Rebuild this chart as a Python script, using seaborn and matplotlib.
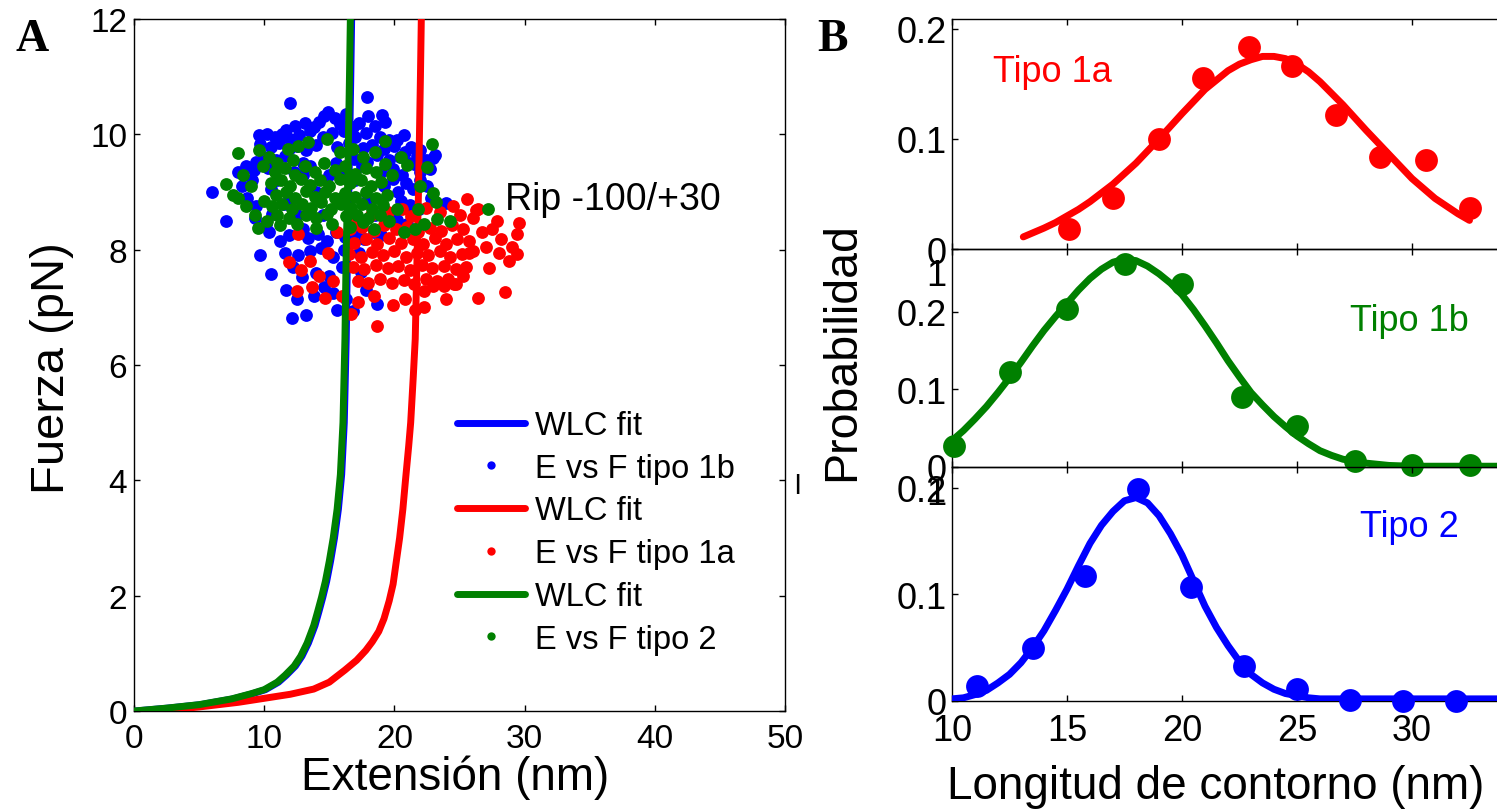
import matplotlib
matplotlib.use('Agg')
import matplotlib.pyplot as plt
from matplotlib.lines import Line2D
import seaborn as sns
import numpy as np

# ---------------- data: panel A (extension nm, force pN) ----------------
blue_pts = [
    (12.0, 10.55), (17.9, 10.64),
    (14.6, 10.32), (14.9, 10.38), (15.4, 10.28), (18.0, 10.31), (19.05, 10.33), (16.3, 10.36), (19.3, 10.22),
    (12.4, 10.15), (13.1, 10.2), (13.8, 10.12), (14.2, 10.22), (15.8, 10.18), (16.8, 10.12), (17.3, 10.2),
    (18.5, 10.15), (13.5, 10.05), (16.1, 10.05), (17.8, 10.02),
    (9.6, 9.99), (10.2, 10.0), (10.8, 9.95), (11.4, 10.0), (12.0, 9.92), (12.7, 9.98), (14.5, 9.95),
    (15.2, 10.02), (17.0, 9.95), (18.9, 9.96), (19.6, 9.9), (20.2, 9.9), (20.7, 9.98), (11.7, 10.08),
    (9.7, 9.83), (10.5, 9.78), (11.1, 9.85), (11.9, 9.75), (12.5, 9.8), (13.2, 9.72), (14.0, 9.82), (15.6, 9.78),
    (16.5, 9.85), (17.6, 9.76), (18.3, 9.82), (19.2, 9.74), (20.0, 9.8), (20.8, 9.7), (21.3, 9.78), (22.0, 9.72),
    (10.0, 9.6), (10.9, 9.55), (11.6, 9.62), (13.0, 9.5), (16.9, 9.58), (17.9, 9.52), (18.7, 9.64), (19.6, 9.55),
    (20.4, 9.6), (21.1, 9.5), (21.7, 9.62), (22.4, 9.56), (23.0, 9.59), (23.1, 9.65), (9.4, 9.52),
    (9.2, 9.38), (10.3, 9.42), (19.0, 9.35), (19.9, 9.4), (20.6, 9.3), (21.5, 9.48), (22.0, 9.34), (22.7, 9.4),
    (8.0, 9.35), (8.6, 9.45),
    (6.0, 9.0), (8.3, 9.1), (9.1, 9.2), (19.9, 9.22), (20.9, 9.15), (22.0, 9.2), (21.4, 9.05), (22.5, 9.1), (20.3, 9.0),
    (8.7, 8.9), (9.4, 8.75), (20.5, 8.85), (21.2, 8.78), (22.8, 8.9), (24.0, 8.81), (21.9, 8.7),
    (7.05, 8.5), (9.3, 8.55), (10.1, 8.45), (19.5, 8.6), (20.2, 8.52), (21.0, 8.45), (10.6, 8.62),
    (10.4, 8.3), (11.2, 8.15), (11.9, 8.25), (12.7, 8.3), (13.4, 8.2), (14.1, 8.28), (14.8, 8.15), (15.5, 8.3),
    (16.2, 8.22), (17.0, 8.3), (17.7, 8.18), (18.4, 8.3), (19.0, 8.25), (13.0, 8.35), (16.6, 8.35),
    (9.7, 7.9), (11.6, 7.95), (12.6, 7.9), (14.4, 8.03), (15.3, 7.88), (16.1, 8.0), (13.5, 7.98), (17.3, 7.95),
    (10.5, 7.58), (12.9, 7.52), (12.2, 7.7), (14.0, 7.6), (15.0, 7.55), (16.0, 7.7), (17.4, 7.62),
    (11.7, 7.3), (12.5, 7.14), (13.8, 7.2), (14.6, 7.35), (15.3, 7.25), (16.3, 7.15), (17.8, 7.3), (18.7, 7.06),
    (12.1, 6.81), (13.2, 6.86), (15.6, 6.95), (16.8, 6.94),
    (11.0, 9.2), (12.0, 8.9), (13.0, 9.3), (14.0, 9.0), (15.0, 9.3), (16.0, 8.9), (17.0, 9.2), (18.0, 8.9),
    (12.5, 8.6), (14.5, 8.6), (16.5, 8.55), (18.5, 8.6), (11.5, 8.8), (13.5, 9.45), (15.5, 9.5), (17.5, 9.45),
    (10.5, 9.05), (19.2, 9.1), (12.3, 9.35), (16.2, 9.3),
]

red_pts = [
    (12.6, 8.27), (11.9, 7.79), (12.8, 7.64), (12.5, 7.29), (14.7, 7.17), (13.7, 7.35), (16.7, 6.88), (18.7, 6.68),
    (22.3, 7.0), (19.9, 7.04), (18.4, 7.2), (25.6, 8.88), (26.4, 8.7), (26.4, 7.17), (23.0, 7.37), (24.6, 7.4),
    (25.3, 7.55), (15.6, 8.3), (14.9, 7.95), (22.4, 8.73), (26.3, 8.69), (27.9, 8.5), (29.6, 8.47), (29.4, 8.27),
    (29.4, 7.92), (28.8, 7.81), (27.3, 7.68), (28.5, 7.26), (26.7, 8.3), (28.2, 8.18), (25.7, 7.95), (23.8, 7.37),
    (24.7, 7.4), (22.3, 7.29), (13.5, 7.8), (14.2, 7.55), (15.3, 7.45), (16.0, 7.2), (17.2, 7.1), (20.8, 7.15),
    (21.6, 6.95), (24.0, 7.15), (17.0, 8.5), (18.2, 8.6), (19.5, 8.65), (20.6, 8.7), (21.3, 8.58), (23.5, 8.65),
    (24.5, 8.75), (27.0, 8.05), (28.0, 7.95), (29.0, 8.05), (27.5, 8.35), (26.0, 8.55), (25.0, 8.6),
    (16.6, 8.35), (17.5, 8.4), (18.4, 8.32), (19.2, 8.42), (20.1, 8.35), (21.0, 8.4), (21.8, 8.3), (22.7, 8.38),
    (23.6, 8.32), (24.4, 8.42), (25.3, 8.35),
    (16.9, 8.12), (17.8, 8.18), (18.7, 8.1), (19.6, 8.2), (20.5, 8.12), (21.4, 8.18), (22.2, 8.1), (23.1, 8.2),
    (24.0, 8.1), (24.8, 8.18), (25.7, 8.15),
    (16.5, 7.92), (17.4, 7.88), (18.3, 7.96), (19.1, 7.9), (20.0, 7.98), (20.9, 7.88), (21.7, 7.95), (22.6, 7.9),
    (23.5, 7.98), (24.3, 7.88), (25.2, 7.92), (26.0, 7.98),
    (16.8, 7.7), (17.7, 7.66), (18.6, 7.74), (19.5, 7.68), (20.3, 7.72), (21.2, 7.65), (22.1, 7.74), (22.9, 7.68),
    (23.8, 7.72), (24.7, 7.66), (25.5, 7.7),
    (17.2, 7.45), (18.0, 7.42), (18.9, 7.5), (19.8, 7.42), (20.7, 7.48), (21.5, 7.4), (22.4, 7.5), (23.3, 7.45),
    (24.1, 7.5),
]

green_pts = [
    (7.1, 9.14), (7.6, 8.95), (8.0, 8.9), (8.0, 9.68), (8.6, 8.75), (9.5, 8.37), (9.6, 9.72), (8.4, 9.3),
    (9.0, 9.1), (9.3, 8.6), (9.9, 9.45), (10.2, 8.5), (10.4, 9.6), (10.0, 8.85),
    (19.3, 9.89), (14.8, 9.92), (13.4, 9.86), (22.9, 9.83), (21.0, 9.47), (22.5, 9.44), (23.2, 8.82), (24.3, 8.5),
    (23.3, 8.53), (21.6, 8.36), (20.7, 8.3), (18.4, 8.36), (27.2, 8.71), (23.0, 8.99), (22.0, 9.1), (20.5, 9.6),
    (21.8, 8.7), (19.8, 9.3), (20.2, 8.7), (11.8, 9.75), (12.6, 9.8), (15.8, 9.7), (16.8, 9.75), (17.6, 9.6),
    (18.5, 9.7), (11.0, 9.5), (12.2, 9.55), (22.3, 8.45), (19.6, 8.5), (11.2, 8.42), (12.5, 8.45), (14.0, 8.38),
    (15.2, 8.45), (16.6, 8.4), (17.6, 8.48),
    (10.8, 9.35), (11.6, 9.42), (12.4, 9.3), (13.1, 9.45), (13.9, 9.35), (14.6, 9.5), (15.4, 9.38), (16.2, 9.45),
    (17.0, 9.32), (17.8, 9.42), (18.6, 9.35), (19.3, 9.48),
    (10.5, 9.15), (11.3, 9.2), (12.0, 9.1), (12.8, 9.22), (13.5, 9.12), (14.3, 9.2), (15.0, 9.1), (15.8, 9.22),
    (16.6, 9.15), (17.4, 9.2), (18.2, 9.1), (19.0, 9.18),
    (10.9, 8.95), (11.7, 9.0), (12.4, 8.9), (13.2, 9.02), (13.9, 8.92), (14.7, 9.0), (15.4, 8.9), (16.2, 8.98),
    (17.0, 8.92), (17.8, 9.0), (18.6, 8.9), (19.4, 8.95),
    (10.6, 8.75), (11.4, 8.8), (12.1, 8.7), (12.9, 8.8), (13.6, 8.72), (14.4, 8.82), (15.1, 8.7), (15.9, 8.8),
    (16.7, 8.72), (17.5, 8.8), (18.3, 8.7), (19.1, 8.78),
    (11.0, 8.6), (11.9, 8.55), (13.2, 8.6), (14.0, 8.55), (14.8, 8.62), (16.3, 8.58), (17.1, 8.6), (18.0, 8.55),
    (18.9, 8.6),
]

# WLC fits
fit_force = [0.0, 0.05, 0.11, 0.21, 0.30, 0.37, 0.50, 0.62, 0.78, 0.95, 1.18, 1.48, 1.72, 1.97, 2.25, 2.6,
             3.0, 3.5, 4.1, 5.0, 6.45, 8.0, 9.0, 11.0, 12.5]
green_fit_ext = [0.0, 2.5, 5.0, 7.5, 9.0, 10.0, 11.0, 11.6, 12.3, 12.8, 13.3, 13.8, 14.1, 14.4, 14.7, 15.0,
                 15.3, 15.6, 15.85, 16.05, 16.2, 16.3, 16.4, 16.55, 16.65]
blue_fit_ext = [0.1, 2.6, 5.1, 7.6, 9.1, 10.1, 11.1, 11.7, 12.4, 12.9, 13.4, 13.9, 14.2, 14.5, 14.8, 15.1,
                15.4, 15.7, 15.95, 16.15, 16.3, 16.4, 16.5, 16.65, 16.75]
red_fit_force = [0.0, 0.07, 0.15, 0.22, 0.29, 0.38, 0.50, 0.71, 0.88, 1.05, 1.20, 1.38, 1.60, 1.91, 2.2, 2.6,
                 3.0, 3.5, 4.0, 4.6, 5.0, 5.8, 6.45, 8.0, 9.0, 11.0, 12.5]
red_fit_ext = [1.8, 5.0, 8.0, 10.0, 12.0, 13.8, 15.0, 16.2, 17.1, 17.8, 18.3, 18.8, 19.2, 19.6, 19.9, 20.15,
               20.4, 20.65, 20.85, 21.1, 21.25, 21.45, 21.6, 21.75, 21.85, 22.0, 22.1]

# ---------------- data: panel B (contour length nm, probability) ----------------
t1a_len = [15.1, 17.0, 19.0, 20.9, 22.9, 24.8, 26.7, 28.6, 30.6, 32.5]
t1a_prob = [0.018, 0.046, 0.100, 0.155, 0.184, 0.166, 0.122, 0.084, 0.081, 0.037]
t1a_fit_len = [13.1, 14, 14.5, 15, 15.5, 16, 17, 18, 19, 20, 21, 22, 22.5, 23, 23.5, 24, 24.5, 25, 25.5,
               26, 27, 28, 29, 30, 31, 32, 32.5]
t1a_fit_prob = [0.011, 0.019, 0.024, 0.030, 0.036, 0.043, 0.059, 0.078, 0.100, 0.123, 0.145, 0.162, 0.168,
                0.172, 0.175, 0.175, 0.173, 0.168, 0.161, 0.152, 0.131, 0.108, 0.086, 0.064, 0.046, 0.032, 0.026]

t1b_len = [10.1, 12.5, 15.0, 17.5, 20.0, 22.6, 25.0, 27.5, 30.0, 32.5]
t1b_prob = [0.027, 0.122, 0.204, 0.262, 0.236, 0.090, 0.053, 0.008, 0.003, 0.003]
t1b_fit_len = [10, 10.5, 11, 11.5, 12, 12.5, 13, 13.5, 14, 14.5, 15, 15.5, 16, 16.5, 17, 17.5, 18, 18.5,
               19, 19.5, 20, 20.5, 21, 21.5, 22, 22.5, 23, 23.5, 24, 24.5, 25, 25.5, 26, 26.5, 27, 28, 29, 30, 34]
t1b_fit_prob = [0.034, 0.047, 0.062, 0.078, 0.096, 0.115, 0.135, 0.156, 0.176, 0.194, 0.211, 0.228, 0.243,
                0.255, 0.264, 0.268, 0.266, 0.259, 0.249, 0.237, 0.222, 0.203, 0.182, 0.160, 0.137, 0.116,
                0.096, 0.080, 0.065, 0.052, 0.040, 0.030, 0.021, 0.015, 0.010, 0.005, 0.002, 0.001, 0.001]

t2_len = [11.1, 13.5, 15.8, 18.1, 20.4, 22.7, 25.0, 27.3, 29.6, 31.9]
t2_prob = [0.014, 0.050, 0.117, 0.199, 0.107, 0.033, 0.011, 0.001, 0.0, 0.0]
t2_fit_len = [10, 10.5, 11, 11.5, 12, 12.5, 13, 13.5, 14, 14.5, 15, 15.5, 16, 16.5, 17, 17.5, 18, 18.5, 19,
              19.5, 20, 20.5, 21, 21.5, 22, 22.5, 23, 23.5, 24, 24.5, 25, 25.5, 26, 35]
t2_fit_prob = [0.002, 0.003, 0.006, 0.010, 0.017, 0.025, 0.036, 0.050, 0.066, 0.085, 0.105, 0.127, 0.148,
               0.165, 0.178, 0.188, 0.191, 0.186, 0.174, 0.157, 0.137, 0.113, 0.089, 0.069, 0.052, 0.037,
               0.025, 0.017, 0.011, 0.007, 0.005, 0.003, 0.002, 0.002]

BLUE, RED, GREEN = '#0000ff', '#ff0000', '#008000'

sns.set_style('ticks', rc={'text.color': 'black', 'axes.labelcolor': 'black', 'axes.edgecolor': 'black',
                           'xtick.color': 'black', 'ytick.color': 'black'})
plt.rcParams['font.family'] = ['Liberation Sans', 'DejaVu Sans']
plt.rcParams['axes.linewidth'] = 1.0

W, H = 1497, 812
fig = plt.figure(figsize=(W / 100, H / 100), dpi=100)


def fx(x):
    return x / W


def fy(y):
    return 1 - y / H


# ---------------- panel A ----------------
axA = fig.add_axes([fx(134), fy(712), 651 / W, 692 / H])
axA.set_facecolor('none')

bp = np.array(blue_pts)
rp = np.array(red_pts)
gp = np.array(green_pts)
dot = 85
sns.lineplot(x=blue_fit_ext, y=fit_force, sort=False, estimator=None, color=BLUE, lw=5, ax=axA, zorder=2)
sns.scatterplot(x=bp[:, 0], y=bp[:, 1], color=BLUE, s=dot, linewidth=0, ax=axA, zorder=3, legend=False)
sns.lineplot(x=red_fit_ext, y=red_fit_force, sort=False, estimator=None, color=RED, lw=5, ax=axA, zorder=4)
sns.scatterplot(x=rp[:, 0], y=rp[:, 1], color=RED, s=dot, linewidth=0, ax=axA, zorder=5, legend=False)
sns.lineplot(x=green_fit_ext, y=fit_force, sort=False, estimator=None, color=GREEN, lw=5, ax=axA, zorder=7)
sns.scatterplot(x=gp[:, 0], y=gp[:, 1], color=GREEN, s=dot, linewidth=0, ax=axA, zorder=6, legend=False)

axA.set_xlim(0, 50)
axA.set_ylim(0, 12)
axA.set_xticks([0, 10, 20, 30, 40, 50])
axA.set_yticks([0, 2, 4, 6, 8, 10, 12])
axA.tick_params(direction='in', top=True, right=True, length=4, width=1, labelsize=24)
axA.tick_params(axis='x', pad=9)
axA.tick_params(axis='y', pad=5)
axA.set_xlabel('')
axA.set_ylabel('')

axA.text(28.5, 8.70, 'Rip -100/+30', fontsize=27, va='baseline', ha='left')

handles = [
    Line2D([], [], color=BLUE, lw=5),
    Line2D([], [], color=BLUE, marker='o', ls='', markersize=6, markeredgewidth=0),
    Line2D([], [], color=RED, lw=5),
    Line2D([], [], color=RED, marker='o', ls='', markersize=6, markeredgewidth=0),
    Line2D([], [], color=GREEN, lw=5),
    Line2D([], [], color=GREEN, marker='o', ls='', markersize=6, markeredgewidth=0),
]
labels = ['WLC fit', 'E vs F tipo 1b', 'WLC fit', 'E vs F tipo 1a', 'WLC fit', 'E vs F tipo 2']
axA.legend(handles, labels, loc='upper left', bbox_to_anchor=(0.496, 0.435), frameon=False,
           fontsize=23.5, handlelength=2.1, handletextpad=0.3, labelspacing=0.36,
           borderpad=0, borderaxespad=0)

fig.text(fx(455), fy(778), 'Extensión (nm)', fontsize=33, ha='center', va='center')
fig.text(fx(52), fy(368), 'Fuerza (pN)', fontsize=34, ha='center', va='center', rotation=90)
fig.text(fx(32), fy(40), 'A', fontsize=33, fontweight='bold', family=['Liberation Serif', 'DejaVu Serif'],
         ha='center', va='center')
fig.text(fx(797), fy(487), 'l', fontsize=20, ha='center', va='center')

# ---------------- panel B ----------------
panels = [
    (20, 250, 0.209, t1a_len, t1a_prob, t1a_fit_len, t1a_fit_prob, RED),
    (250, 468, 0.281, t1b_len, t1b_prob, t1b_fit_len, t1b_fit_prob, GREEN),
    (468, 702, 0.2197, t2_len, t2_prob, t2_fit_len, t2_fit_prob, BLUE),
]
axes_b = []
for top, bot, ymax, xs, ys, fxs, fys, col in panels:
    ax = fig.add_axes([fx(952), fy(bot), 575 / W, (bot - top) / H])
    ax.set_facecolor('none')
    sns.lineplot(x=fxs, y=fys, sort=False, estimator=None, color=col, lw=5, ax=ax, zorder=3)
    sns.scatterplot(x=xs, y=ys, color=col, s=270, linewidth=0, ax=ax, zorder=4, legend=False, clip_on=False)
    ax.set_xlim(10, 35)
    ax.set_ylim(0, ymax)
    ax.set_xticks([10, 15, 20, 25, 30])
    ax.set_yticks([0, 0.1, 0.2])
    ax.set_yticklabels(['0', '0.1', '0.2'])
    ax.tick_params(direction='in', top=True, right=True, length=4, width=1, labelsize=26)
    ax.tick_params(axis='x', pad=9)
    ax.tick_params(axis='y', pad=4)
    ax.set_xlabel('')
    ax.set_ylabel('')
    axes_b.append(ax)

for ax in axes_b[:2]:
    ax.tick_params(axis='x', labelbottom=False)

fig.text(fx(993), fy(82), 'Tipo 1a', color=RED, fontsize=26, ha='left', va='baseline')
fig.text(fx(1350), fy(331), 'Tipo 1b', color=GREEN, fontsize=26, ha='left', va='baseline')
fig.text(fx(1360), fy(537), 'Tipo 2', color=BLUE, fontsize=26, ha='left', va='baseline')
fig.text(fx(946), fy(277), '1', fontsize=26, ha='right', va='center')
fig.text(fx(946), fy(496), '1', fontsize=26, ha='right', va='center')

fig.text(fx(842), fy(352), 'Probabilidad', fontsize=33.5, ha='center', va='center', rotation=90)
fig.text(fx(1216), fy(787), 'Longitud de contorno (nm)', fontsize=33, ha='center', va='center')
fig.text(fx(832), fy(40), 'B', fontsize=33, fontweight='bold', family=['Liberation Serif', 'DejaVu Serif'],
         ha='center', va='center')

fig.savefig('out.png', dpi=100)
